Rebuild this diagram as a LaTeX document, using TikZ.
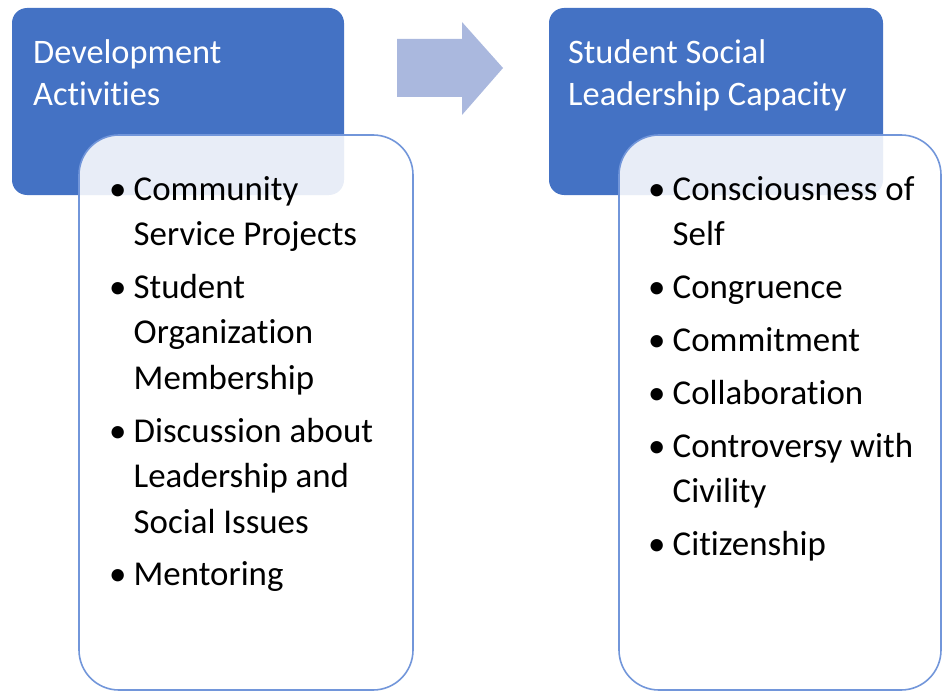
\documentclass[tikz,border=0pt]{standalone}
\usepackage{fontspec}
\setmainfont[Ligatures=NoCommon]{Carlito}
\definecolor{headblue}{RGB}{68,114,196}
\definecolor{edgeblue}{RGB}{114,150,218}
\definecolor{arrowblue}{RGB}{170,184,222}
\tikzset{
  headbox/.style={fill=headblue, rounded corners=15bp},
  listbox/.style={fill=white, fill opacity=0.88, draw=edgeblue, draw opacity=1, line width=1.6bp, rounded corners=40bp},
  headtext/.style={anchor=base west, inner sep=0pt, text=white, font=\fontsize{34.5}{42}\selectfont},
  listtext/.style={anchor=base west, inner sep=0pt, text=black, font=\fontsize{35}{45.6}\selectfont},
}
\newcommand{\bul}{\makebox[24.5bp][l]{\textbullet}}
\begin{document}
\begin{tikzpicture}[x=1bp, y=-1bp]
  \useasboundingbox (0,0) rectangle (943,692);
  % header boxes
  \fill[headbox] (12,8) rectangle (344,195);
  \fill[headbox] (549,8) rectangle (883,195);
  % list boxes over the headers
  \path[listbox] (79,135) rectangle (413,690);
  \path[listbox] (619,135) rectangle (941,690);
  % block arrow between the two columns
  \fill[arrowblue] (397,39) -- (462,39) -- (462,22) -- (503,68) -- (462,115) -- (462,97) -- (397,97) -- cycle;
  % headings
  \node[headtext] (acthead) at (33,64) {\begin{tabular}[t]{@{}l@{}}Development\\Activities\end{tabular}};
  \node[headtext] (caphead) at (568,64) {\begin{tabular}[t]{@{}l@{}}Student Social\\Leadership Capacity\end{tabular}};
  % item lists
  \node[listtext] (actlist) at (109,200) {\begin{tabular}[t]{@{}l@{}l@{}}
    \bul & Community\\
         & Service Projects\\[7.5bp]
    \bul & Student\\
         & Organization\\
         & Membership\\[7.5bp]
    \bul & Discussion about\\
         & Leadership and\\
         & Social Issues\\[7.5bp]
    \bul & Mentoring
  \end{tabular}};
  \node[listtext] (caplist) at (648,200) {\begin{tabular}[t]{@{}l@{}l@{}}
    \bul & Consciousness of\\
         & Self\\[7.5bp]
    \bul & Congruence\\[7.5bp]
    \bul & Commitment\\[7.5bp]
    \bul & Collaboration\\[7.5bp]
    \bul & Controversy with\\
         & Civility\\[7.5bp]
    \bul & Citizenship
  \end{tabular}};
\end{tikzpicture}
\end{document}
